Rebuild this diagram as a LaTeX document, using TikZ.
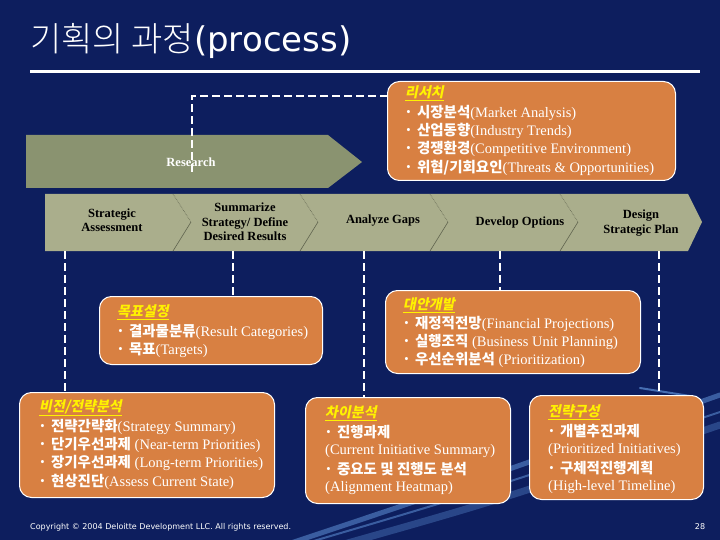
\documentclass[tikz,border=0pt]{standalone}
\usepackage{fontspec}
\setmainfont{Liberation Serif}
\newfontfamily\kr{Noto Sans CJK KR}
\newfontfamily\krl{Noto Sans CJK KR Light}
\newfontfamily\krsl{Noto Sans CJK KR}[FakeSlant=0.2]
\newfontfamily\dv{DejaVu Sans}
\definecolor{bgc}{RGB}{13,30,94}
\definecolor{orng}{RGB}{216,128,66}
\definecolor{rsc}{RGB}{138,147,112}
\definecolor{bandc}{RGB}{170,174,140}
\definecolor{sepc}{RGB}{96,100,78}
\definecolor{strk}{RGB}{95,145,215}
\newcommand\kb[1]{{\kr\bfseries #1}}
\newcommand\bl{{\kr\bfseries ·}\hspace{4pt}}
\newcommand\hdr[1]{\underline{{\krsl\bfseries #1}}}
\tikzset{
 obox/.style={draw=white, line width=1pt, fill=orng, rounded corners=12pt, anchor=north west, inner sep=0pt},
 dsh/.style={draw=white, line width=2.5pt, dash pattern=on 8pt off 4pt},
 tx/.style={anchor=west, inner sep=0pt, text=white, font=\fontsize{14.5}{16}\selectfont},
 hd/.style={anchor=west, inner sep=0pt, text=yellow, font=\fontsize{14}{16}\selectfont},
 chv/.style={align=center, font=\bfseries\fontsize{12.5}{14.5}\selectfont, text=black, inner sep=0pt},
 sepl/.style={draw=sepc, line width=0.6pt},
 streak/.style={draw=strk, line cap=round, opacity=0.55},
}
\begin{document}
\begin{tikzpicture}[x=1pt,y=-1pt]
\fill[bgc] (0,0) rectangle (720,540);
\useasboundingbox (0,0) rectangle (720,540);
% decorative streaks
\draw[streak, line width=5pt] (285,545) .. controls (450,490) .. (720,395);
\draw[streak, line width=2pt] (300,545) .. controls (470,495) .. (720,412);
\draw[streak, line width=7pt, opacity=0.35] (330,548) .. controls (500,500) .. (720,425);
\draw[streak, line width=2pt, opacity=0.7] (640,388) -- (690,396);
% title
\node[anchor=west, inner sep=0pt, text=white] (title) at (30,41) {{\krl\fontsize{34}{36}\selectfont 기획의 과정}{\dv\fontsize{34}{36}\selectfont (process)}};
\draw[white, line width=3pt] (30,72) -- (700,72);
% research arrow
\fill[rsc] (26,135) -- (328,135) -- (362,162) -- (328,188) -- (26,188) -- cycle;
\node[font=\bfseries\fontsize{12.5}{14}\selectfont, text=white, inner sep=0pt] (research) at (191,162) {Research};
% chevron band
\fill[bandc] (45,194) -- (688,194) -- (702,222) -- (688,251) -- (45,251) -- cycle;
\foreach \sx in {173,300,430,560}{
  \draw[sepl, densely dotted] (\sx,194) -- (\sx+18,222);
  \draw[sepl] (\sx+18,222) -- (\sx,251);
}
\node[chv] (c1) at (112,220) {Strategic\\Assessment};
\node[chv] (c2) at (245,222) {Summarize\\Strategy/ Define\\Desired Results};
\node[chv] (c3) at (383,221) {Analyze Gaps};
\node[chv] (c4) at (520,222) {Develop Options};
\node[chv] (c5) at (641,223) {Design\\Strategic Plan};
% boxes
\node[obox, minimum width=288pt, minimum height=99pt] (rs) at (387,81) {};
\node[obox, minimum width=223pt, minimum height=68pt] (goal) at (99,296) {};
\node[obox, minimum width=255pt, minimum height=83pt] (alt) at (385,290) {};
\node[obox, minimum width=255pt, minimum height=105pt] (vis) at (19,392) {};
\node[obox, minimum width=205pt, minimum height=106pt] (gap) at (305,397) {};
\node[obox, minimum width=174pt, minimum height=104pt] (plan) at (529,395) {};
% dashed connectors
\coordinate (rsa) at (192,172);
\coordinate (d1c) at (192,96);
\draw[dsh] (rsa) -- (d1c) -- (d1c -| rs.west);
\coordinate (b1) at (65,251);
\coordinate (b2) at (233,251);
\coordinate (b3) at (364,251);
\coordinate (b4) at (500,251);
\coordinate (b5) at (659,251);
\draw[dsh] (b1) -- (b1 |- vis.north);
\draw[dsh] (b2) -- (b2 |- goal.north);
\draw[dsh] (b3) -- (b3 |- gap.north);
\draw[dsh] (b4) -- (b4 |- alt.north);
\draw[dsh] (b5) -- (b5 |- plan.north);
% research box text
\node[hd] (rs0) at (405,93) {\hdr{리서치}};
\node[tx] (rs1) at (404,113) {\bl\kb{시장분석}(Market Analysis)};
\node[tx] (rs2) at (404,131) {\bl\kb{산업동향}(Industry Trends)};
\node[tx] (rs3) at (404,149) {\bl\kb{경쟁환경}(Competitive Environment)};
\node[tx] (rs4) at (404,168) {\bl\kb{위협/기회요인}(Threats \& Opportunities)};
% goal box text
\node[hd] (g0) at (117,312) {\hdr{목표설정}};
\node[tx] (g1) at (116,332) {\bl\kb{결과물분류}(Result Categories)};
\node[tx] (g2) at (116,350) {\bl\kb{목표}(Targets)};
% alternatives
\node[hd] (a0) at (403,305) {\hdr{대안개발}};
\node[tx] (a1) at (402,324) {\bl\kb{재정적전망}(Financial Projections)};
\node[tx] (a2) at (402,342) {\bl\kb{실행조직} (Business Unit Planning)};
\node[tx] (a3) at (402,360) {\bl\kb{우선순위분석} (Prioritization)};
% vision
\node[hd] (v0) at (39,408) {\hdr{비전/전략분석}};
\node[tx] (v1) at (38,427) {\bl\kb{전략간략화}(Strategy Summary)};
\node[tx] (v2) at (38,445) {\bl\kb{단기우선과제} (Near-term Priorities)};
\node[tx] (v3) at (38,463) {\bl\kb{장기우선과제} (Long-term Priorities)};
\node[tx] (v4) at (38,482) {\bl\kb{현상진단}(Assess Current State)};
% gap analysis
\node[hd] (p0) at (325,413) {\hdr{차이분석}};
\node[tx] (p1) at (324,432) {\bl\kb{진행과제}};
\node[tx] (p2) at (325,451) {(Current Initiative Summary)};
\node[tx] (p3) at (324,469) {\bl\kb{중요도 및 진행도 분석}};
\node[tx] (p4) at (325,488) {(Alignment Heatmap)};
% strategy composition
\node[hd] (s0) at (548,412) {\hdr{전략구성}};
\node[tx] (s1) at (547,431) {\bl\kb{개별추진과제}};
\node[tx] (s2) at (548,450) {(Prioritized Initiatives)};
\node[tx] (s3) at (547,468) {\bl\kb{구체적진행계획}};
\node[tx] (s4) at (548,487) {(High-level Timeline)};
% footer
\node[anchor=west, inner sep=0pt, text=white, font=\dv\fontsize{8}{9}\selectfont] (copy) at (30,527) {Copyright © 2004 Deloitte Development LLC. All rights reserved.};
\node[inner sep=0pt, text=white, font=\dv\fontsize{8}{9}\selectfont] (pg) at (700,527) {28};
\end{tikzpicture}
\end{document}
